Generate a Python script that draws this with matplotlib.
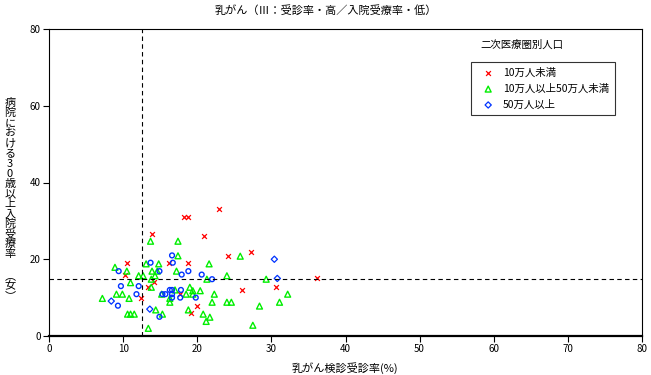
import numpy as np
import matplotlib.pyplot as plt

plt.rcParams['font.family'] = ['Noto Sans CJK JP', 'DejaVu Sans']

# 10万人未満
red_x = [22.9, 18.2, 18.7, 20.9, 27.2, 24.1, 10.5, 10.3, 16.2, 18.7, 13.9, 13.3,
         14.2, 12.4, 17.7, 19.9, 19.1, 36.1, 30.6, 26.1]
red_y = [33.1, 31.0, 31.0, 26.0, 21.8, 20.9, 18.9, 15.9, 18.9, 18.9, 26.7, 12.8,
         14.0, 9.8, 10.9, 7.9, 5.9, 15.0, 12.8, 12.0]

# 10万人以上50万人未満
grn_x = [13.7, 17.4, 17.4, 13.1, 14.8, 21.6, 8.9, 10.5, 13.9, 14.6, 17.2, 12.1,
         12.7, 14.3, 21.3, 24.0, 11.0, 13.8, 13.8, 19.0, 19.4, 20.4, 22.3, 9.1,
         9.9, 10.8, 7.2, 15.2, 17.0, 18.5, 19.4, 16.3, 16.3, 14.4, 15.3, 10.6,
         11.0, 11.5, 13.4, 18.8, 20.8, 21.7, 21.2, 22.0, 24.0, 25.8, 29.3, 32.2,
         24.6, 28.4, 31.1, 27.5]
grn_y = [24.7, 24.7, 20.9, 18.8, 18.8, 18.8, 17.9, 16.9, 16.9, 16.9, 16.9, 15.7,
         15.7, 15.7, 14.8, 15.7, 13.9, 14.8, 12.7, 12.7, 11.8, 11.8, 10.9, 10.9,
         10.9, 9.8, 9.8, 10.9, 12.0, 10.9, 10.9, 9.8, 8.8, 6.8, 5.7, 5.7,
         5.7, 5.7, 2.0, 6.8, 5.7, 4.9, 3.8, 8.8, 8.8, 20.8, 14.8, 10.9,
         8.8, 7.8, 8.8, 2.8]

# 50万人以上
blu_x = [8.4, 13.6, 30.8, 30.4]
blu_y = [9.1, 7.0, 15.0, 20.0]
blu_o_x = [9.4, 9.7, 12.1, 9.3, 11.8, 14.9, 16.6, 16.7, 13.7, 14.9, 18.8, 17.9,
           20.6, 22.0, 16.3, 16.6, 17.8, 15.7, 16.6, 16.6, 17.7, 19.8, 15.3]
blu_o_y = [16.9, 13.0, 13.0, 7.9, 10.9, 5.0, 21.0, 19.1, 19.1, 16.9, 16.9, 16.0,
           16.0, 14.8, 12.0, 12.0, 12.0, 10.9, 10.9, 10.0, 10.0, 10.0, 10.9]

x_mean = 12.5
y_mean = 14.8

W, H = 651, 375
fig = plt.figure(figsize=(W / 100, H / 100), dpi=100)
ax = fig.add_axes([49 / W, (H - 336) / H, 593 / W, 307 / H])

ax.axvline(x_mean, color='black', ls=(0, (4, 3)), lw=0.8)
ax.axhline(y_mean, color='black', ls=(0, (4, 3)), lw=0.8)

ax.scatter(red_x, red_y, marker='x', s=12, color='red', lw=0.9, label='10万人未満')
ax.scatter(grn_x, grn_y, marker='^', s=18, facecolors='none', edgecolors='#00ee00',
           lw=1.0, label='10万人以上50万人未満')
ax.scatter(blu_x, blu_y, marker='D', s=10, facecolors='none', edgecolors='#0033ff',
           lw=0.9, label='50万人以上')
ax.scatter(blu_o_x, blu_o_y, marker='o', s=12, facecolors='none', edgecolors='#0033ff',
           lw=1.0)

ax.set_xlim(0, 80)
ax.set_ylim(0, 80)
ax.set_xticks(np.arange(0, 81, 10))
ax.set_yticks(np.arange(0, 81, 20))
ax.tick_params(labelsize=7, length=4, width=0.8, direction='out', pad=2)
for s in ax.spines.values():
    s.set_linewidth(0.8)
ax.spines['bottom'].set_linewidth(1.6)

fig.text(0.5, 1 - 10 / H, '乳がん（Ⅲ：受診率・高／入院受療率・低）', fontsize=8,
         ha='center', va='center')
fig.text(345 / W, 1 - 368 / H, '乳がん検診受診率(%)', fontsize=8,
         ha='center', va='center')

# vertical (tategaki) y label, one character at a time
ylab = '病院における30歳以上入院受療率'
for i, ch in enumerate(ylab):
    fig.text(10 / W, 1 - (103 + i * 10.1) / H, ch, fontsize=8,
             ha='center', va='center')
for ch, yp in zip(['︵', '女', '︶'], [276, 286, 296]):
    fig.text(10 / W, 1 - yp / H, ch, fontsize=8, ha='center', va='center')

ax.text((522 - 49) / 593, (336 - 45) / 307, '二次医療圏別人口',
        transform=ax.transAxes, fontsize=7.5, ha='center', va='center')
leg = ax.legend(loc='upper left', bbox_to_anchor=((471 - 49) / 593, (336 - 62) / 307),
                borderaxespad=0, fontsize=7.5, frameon=True, fancybox=False,
                edgecolor='black', borderpad=0.55, handletextpad=0.3,
                labelspacing=0.55, handlelength=2.2)
leg.get_frame().set_linewidth(0.8)

fig.savefig('out.png', dpi=100)
